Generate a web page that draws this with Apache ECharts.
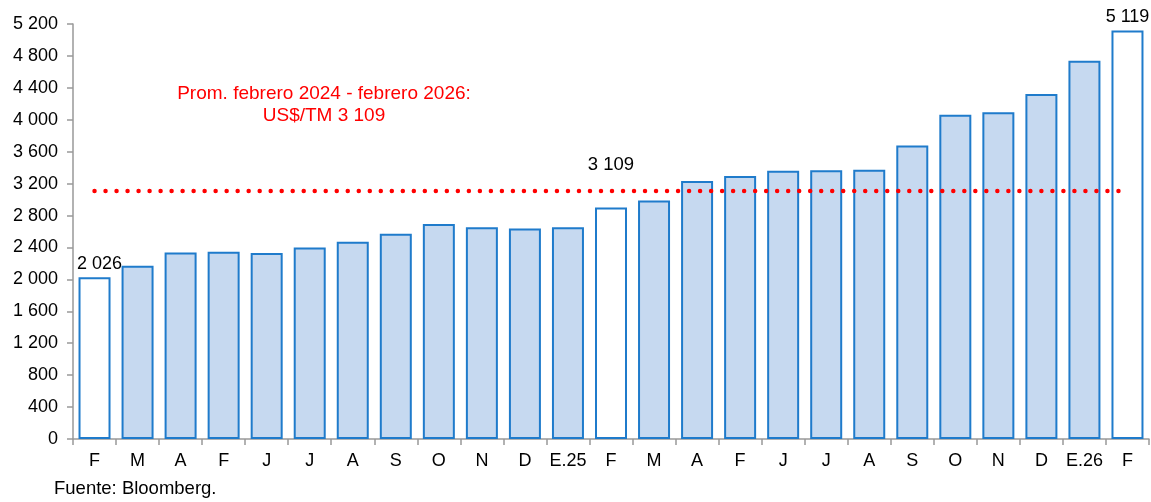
<!DOCTYPE html>
<html>
<head>
<meta charset="utf-8">
<script src="https://cdn.jsdelivr.net/npm/echarts@6/dist/echarts.min.js"></script>
<style>
  html, body { margin: 0; padding: 0; background: #fff; }
  #chart { width: 1151px; height: 502px; }
</style>
</head>
<body>
<div id="chart"></div>
<script>
// meses (feb 2024 - feb 2026)
var months = ['F', 'M', 'A', 'F', 'J', 'J', 'A', 'S', 'O', 'N', 'D', 'E.25',
              'F', 'M', 'A', 'F', 'J', 'J', 'A', 'S', 'O', 'N', 'D', 'E.26', 'F'];
// precio US$/TM
var prices = [2026, 2172, 2338, 2347, 2331, 2401, 2472, 2573, 2694, 2652, 2639, 2652,
              2902, 2990, 3233, 3296, 3360, 3366, 3375, 3679, 4064, 4093, 4323, 4741, 5119];
// barras sin relleno (feb de cada año)
var febIdx = [0, 12, 24];
// barras con etiqueta de valor
var labelIdx = [0, 24];
var avgValue = 3109;

function fmt(v) {
    return String(v).replace(/\B(?=(\d{3})+(?!\d))/g, ' ');
}

var barData = prices.map(function (v, i) {
    var item = { value: v };
    if (febIdx.indexOf(i) >= 0) {
        item.itemStyle = { color: '#ffffff' };
    }
    if (labelIdx.indexOf(i) >= 0) {
        item.label = { show: true };
        if (i === 0) item.label.offset = [5, 0];
    }
    return item;
});

var avgData = months.map(function (m, i) {
    var item = { value: avgValue };
    if (i === 12) {
        item.label = { show: true };
    }
    return item;
});

var myChart = echarts.init(document.getElementById('chart'));

var option = {
    animation: false,
    textStyle: { fontFamily: 'Liberation Sans, Arial, sans-serif' },
    grid: { left: 73, right: 2, top: 24, bottom: 63 },
    title: {
        text: 'Prom. febrero 2024 - febrero 2026:\nUS$/TM 3 109',
        left: 319,
        top: 78,
        textAlign: 'center',
        textStyle: {
            color: '#ff0000',
            fontSize: 19,
            fontWeight: 'normal',
            lineHeight: 22,
            fontFamily: 'Liberation Sans, Arial, sans-serif'
        }
    },
    graphic: [{
        type: 'text',
        left: 54,
        top: 479,
        style: {
            text: 'Fuente: Bloomberg.',
            fill: '#000',
            fontSize: 18.5,
            fontFamily: 'Liberation Sans, Arial, sans-serif'
        }
    }],
    xAxis: {
        type: 'category',
        data: months,
        axisLine: { lineStyle: { color: '#999', width: 1.5 } },
        axisTick: { show: true, length: 6, lineStyle: { color: '#999', width: 1.5 } },
        axisLabel: { color: '#000', fontSize: 18, margin: 13, interval: 0 }
    },
    yAxis: {
        type: 'value',
        min: 0,
        max: 5200,
        interval: 400,
        splitLine: { show: false },
        axisLine: { show: true, lineStyle: { color: '#999', width: 1.5 } },
        axisTick: { show: true, length: 6, lineStyle: { color: '#999', width: 1.5 } },
        axisLabel: {
            color: '#000',
            fontSize: 18,
            margin: 15,
            formatter: function (v) { return fmt(v); }
        }
    },
    series: [
        {
            name: 'Precio',
            type: 'bar',
            barWidth: 32,
            data: barData,
            itemStyle: {
                color: '#c6d9f0',
                borderColor: '#1f7bcb',
                borderWidth: 2
            },
            label: {
                show: false,
                position: 'top',
                distance: 4,
                color: '#000',
                fontSize: 18,
                formatter: function (p) { return fmt(p.value); }
            }
        },
        {
            name: 'Promedio',
            type: 'line',
            data: avgData,
            symbol: 'circle',
            symbolSize: 0,
            showSymbol: true,
            z: 5,
            lineStyle: {
                color: '#ff0000',
                width: 4.5,
                type: [0.01, 11],
                cap: 'round'
            },
            label: {
                show: false,
                position: 'top',
                distance: 16,
                color: '#000',
                fontSize: 18.5,
                formatter: function (p) { return fmt(p.value); }
            }
        }
    ]
};

myChart.setOption(option);
</script>
</body>
</html>
